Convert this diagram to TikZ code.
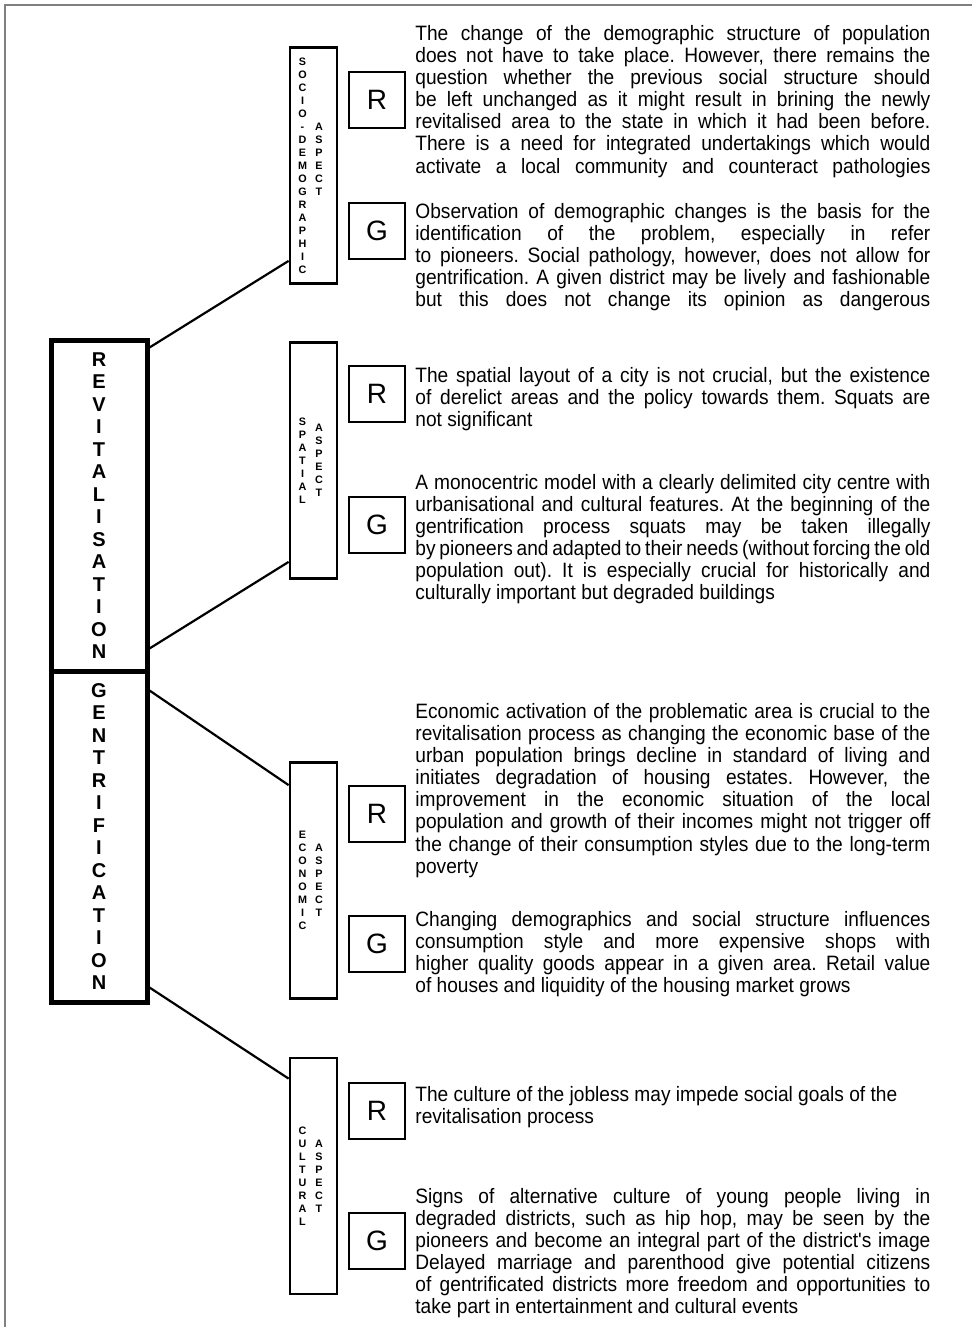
\documentclass[tikz,border=0pt]{standalone}
\usepackage{fontspec}
\setmainfont{Liberation Sans}
\newfontfamily\narrowfont{Liberation Sans}[FakeStretch=0.92]
\newcommand\fullline[1]{{\spaceskip=0pt\xspaceskip=0pt\makebox[257.5pt][s]{#1}}}
\frenchspacing

\begin{document}
\begin{tikzpicture}[x=0.5pt, y=-0.5pt,
  mainbox/.style={draw, line width=2.5pt, minimum width=48pt, minimum height=165.5pt,
    inner sep=0pt, align=center, font=\fontsize{10}{11.25}\selectfont\bfseries},
  aspectbox/.style={draw, line width=1.4pt, minimum width=23.5pt, minimum height=118pt, inner sep=0pt},
  vletters/.style={inner sep=0pt, align=center, font=\fontsize{5.4}{6.5}\selectfont\bfseries},
  rgbox/.style={draw, line width=0.9pt, minimum size=28pt, inner sep=0pt, font=\fontsize{14}{14}\selectfont},
  txt/.style={anchor=north west, inner sep=0pt, text width=257.5pt, align=justify,
    font=\narrowfont\fontsize{10.4}{11.05}\selectfont},
  branch/.style={line width=1.1pt}]
\useasboundingbox (0,0) rectangle (972,1327);
\draw [gray, line width=1pt] (5,1327) -- (5,5) -- (972,5);

% main boxes
\node [mainbox] (rev) at (99,505.5) {R\\E\\V\\I\\T\\A\\L\\I\\S\\A\\T\\I\\O\\N};
\node [mainbox] (gen) at (99,836.5) {G\\E\\N\\T\\R\\I\\F\\I\\C\\A\\T\\I\\O\\N};

% aspects
\node [aspectbox] (socio) at (313.5,165.5) {};
\node [vletters] (socio-l) at ([xshift=-5.5pt]socio.center) {S\\O\\C\\I\\O\\-\\D\\E\\M\\O\\G\\R\\A\\P\\H\\I\\C};
\node [vletters] (socio-r) at ([xshift=2.75pt,yshift=3pt]socio.center) {A\\S\\P\\E\\C\\T};

\node [aspectbox] (spatial) at (313.5,460.5) {};
\node [vletters] (spatial-l) at ([xshift=-5.5pt]spatial.center) {S\\P\\A\\T\\I\\A\\L};
\node [vletters] (spatial-r) at ([xshift=2.75pt]spatial.center) {A\\S\\P\\E\\C\\T};

\node [aspectbox] (economic) at (313.5,880.5) {};
\node [vletters] (economic-l) at ([xshift=-5.5pt]economic.center) {E\\C\\O\\N\\O\\M\\I\\C};
\node [vletters] (economic-r) at ([xshift=2.75pt]economic.center) {A\\S\\P\\E\\C\\T};

\node [aspectbox] (cultural) at (313.5,1176) {};
\node [vletters] (cultural-l) at ([xshift=-5.5pt]cultural.center) {C\\U\\L\\T\\U\\R\\A\\L};
\node [vletters] (cultural-r) at ([xshift=2.75pt]cultural.center) {A\\S\\P\\E\\C\\T};

\draw [branch] ([yshift=-5pt]rev.north east) -- ([yshift=12pt]socio.south west);
\draw [branch] ([yshift=12.5pt]rev.south east) -- ([yshift=9pt]spatial.south west);
\draw [branch] ([yshift=-11pt]gen.north east) -- ([yshift=-12pt]economic.north west);
\draw [branch] ([yshift=8.5pt]gen.south east) -- ([yshift=-11pt]cultural.north west);

% R / G boxes
\node [rgbox] (socioR) at (377,100) {R};
\node [rgbox] (socioG) at (377,231) {G};
\node [rgbox] (spatialR) at (377,394) {R};
\node [rgbox] (spatialG) at (377,525) {G};
\node [rgbox] (economicR) at (377,814) {R};
\node [rgbox] (economicG) at (377,944) {G};
\node [rgbox] (culturalR) at (377,1111) {R};
\node [rgbox] (culturalG) at (377,1241) {G};

% texts
\node [txt] (socioRtxt) at (415,25) {\fullline{The change of the demographic structure of population}\\
\fullline{does not have to take place. However, there remains the}\\
\fullline{question whether the previous social structure should}\\
\fullline{be left unchanged as it might result in brining the newly}\\
\fullline{revitalised area to the state in which it had been before.}\\
\fullline{There is a need for integrated undertakings which would}\\
\fullline{activate a local community and counteract pathologies}};

\node [txt] (socioGtxt) at (415,203) {\fullline{Observation of demographic changes is the basis for the}\\
\fullline{identification of the problem, especially in refer}\\
\fullline{to pioneers. Social pathology, however, does not allow for}\\
\fullline{gentrification. A given district may be lively and fashionable}\\
\fullline{but this does not change its opinion as dangerous}};

\node [txt] (spatialRtxt) at (415,367) {\fullline{The spatial layout of a city is not crucial, but the existence}\\
\fullline{of derelict areas and the policy towards them. Squats are}\\
not significant};

\node [txt] (spatialGtxt) at (415,474) {\fullline{A monocentric model with a clearly delimited city centre with}\\
\fullline{urbanisational and cultural features. At the beginning of the}\\
\fullline{gentrification process squats may be taken illegally}\\
\fullline{by pioneers and adapted to their needs (without forcing the old}\\
\fullline{population out). It is especially crucial for historically and}\\
culturally important but degraded buildings};

\node [txt] (economicRtxt) at (415,703) {\fullline{Economic activation of the problematic area is crucial to the}\\
\fullline{revitalisation process as changing the economic base of the}\\
\fullline{urban population brings decline in standard of living and}\\
\fullline{initiates degradation of housing estates. However, the}\\
\fullline{improvement in the economic situation of the local}\\
\fullline{population and growth of their incomes might not trigger off}\\
\fullline{the change of their consumption styles due to the long-term}\\
poverty};

\node [txt] (economicGtxt) at (415,911) {\fullline{Changing demographics and social structure influences}\\
\fullline{consumption style and more expensive shops with}\\
\fullline{higher quality goods appear in a given area. Retail value}\\
of houses and liquidity of the housing market grows};

\node [txt] (culturalRtxt) at (415,1086) {The culture of the jobless may impede social goals of the\\
revitalisation process};

\node [txt] (culturalGtxt) at (415,1188) {\fullline{Signs of alternative culture of young people living in}\\
\fullline{degraded districts, such as hip hop, may be seen by the}\\
\fullline{pioneers and become an integral part of the district's image}\\
\fullline{Delayed marriage and parenthood give potential citizens}\\
\fullline{of gentrificated districts more freedom and opportunities to}\\
take part in entertainment and cultural events};
\end{tikzpicture}
\end{document}
